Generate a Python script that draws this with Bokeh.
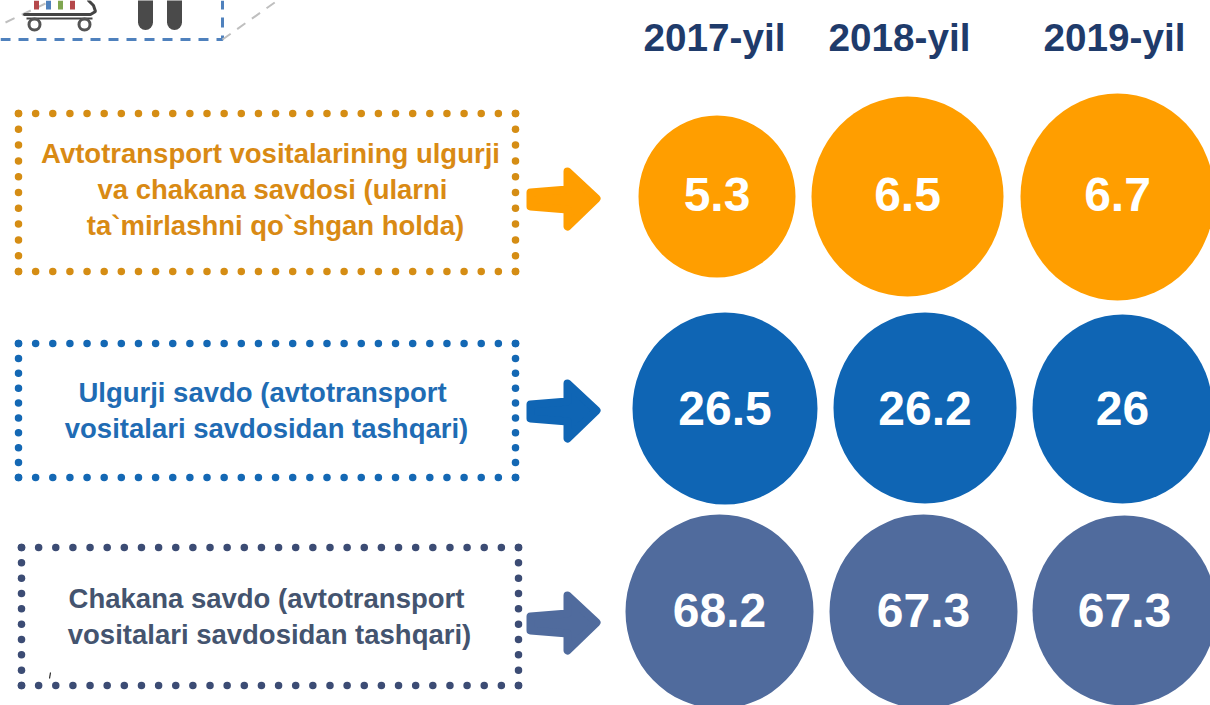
from bokeh.plotting import figure
from bokeh.core.properties import value
from bokeh.embed import file_html
from bokeh.resources import INLINE
import numpy as np

years = ["2017-yil", "2018-yil", "2019-yil"]
orange_vals = ["5.3", "6.5", "6.7"]
blue_vals = ["26.5", "26.2", "26"]
slate_vals = ["68.2", "67.3", "67.3"]
labels = [
    ["Avtotransport vositalarining ulgurji", "va chakana savdosi (ularni", "ta`mirlashni qo`shgan holda)"],
    ["Ulgurji savdo (avtotransport", "vositalari savdosidan tashqari)"],
    ["Chakana savdo (avtotransport", "vositalari savdosidan tashqari)"],
]

p = figure(width=1210, height=705, x_range=(0, 1210), y_range=(705, 0),
           output_backend="svg", toolbar_location=None,
           min_border=0, outline_line_color=None, background_fill_color="white")
p.axis.visible = False
p.grid.visible = False

FONT = value("Liberation Sans")
NAVY = "#1F3B6B"

# top fragment: dashed frame, cart, legs
p.line([0, 222, 222], [39, 39, 0], line_color="#4F81BD", line_width=3, line_dash="10 8")
p.line([222, 277], [39, 0], line_color="#BFBFBF", line_width=2, line_dash="10 8")
p.line([5, 45], [22, 3], line_color="#BFBFBF", line_width=2, line_dash="10 8")
p.line([24, 90, 95, 93, 88], [14, 14, 11, 5, 0], line_color="#444444", line_width=3, line_cap="round")
p.line([26, 92], [18, 18], line_color="#444444", line_width=2)
p.scatter([34, 84], [24, 24], size=11, marker="circle", fill_color="white", line_color="#555555", line_width=3)
p.line([145, 145], [0, 22], line_color="#4A4A4A", line_width=15, line_cap="round")
p.line([174, 174], [0, 22], line_color="#4A4A4A", line_width=15, line_cap="round")
p.segment([36, 48, 60, 72], [0, 0, 0, 0], [36, 48, 60, 72], [9, 9, 9, 9],
          line_color=["#B5484A", "#4F81BD", "#7FA650", "#B5484A"], line_width=5)

# year headers
p.text([714, 899, 1114], [37, 37, 37], text=years, text_font=FONT, text_font_style="bold",
       text_font_size="38.7px", text_color=NAVY, text_align="center", text_baseline="middle")

def dots(x0, x1, y0, y1, color, nx, ny):
    xs = np.r_[np.linspace(x0, x1, nx), np.linspace(x0, x1, nx),
               np.full(ny, x0), np.full(ny, x1)]
    ys = np.r_[np.full(nx, y0), np.full(nx, y1),
               np.linspace(y0, y1, ny), np.linspace(y0, y1, ny)]
    p.scatter(xs, ys, size=7.5, marker="circle", fill_color=color, line_color=None)

def arrow(y, color):
    xs = [530, 567, 567, 596, 567, 567, 530]
    ys = [y - 6, y - 9, y - 27, y, y + 28, y + 11, y + 8]
    p.patch(xs, ys, fill_color=color, line_color=color, line_width=8, line_join="round")

rows = [
    dict(box=(18, 515, 113, 271, 30, 11), dot="#D58D14", fill="#FF9E00", txt="#D98A14", vals=orange_vals,
         ay=198, cx=[716.5, 907, 1117], cy=[196, 196, 196.5], w=[157, 192, 194], h=[162, 200, 207],
         tx=[270, 272, 275], ty=[153, 189, 225], lab=labels[0], tyv=194),
    dict(box=(18, 515, 343, 477, 30, 10), dot="#1468B4", fill="#0F65B4", txt="#1F6CB4", vals=blue_vals,
         ay=410, cx=[724.5, 924.5, 1122], cy=[408, 407.5, 408.5], w=[185, 183, 180], h=[192, 191, 189],
         tx=[262, 266], ty=[392, 428], lab=labels[1], tyv=408),
    dict(box=(21, 518, 547, 685, 30, 10), dot="#3C4C74", fill="#506B9D", txt="#44546F", vals=slate_vals,
         ay=622, cx=[719, 923, 1124], cy=[611, 611, 610], w=[188, 188, 184], h=[194, 194, 190],
         tx=[266, 269], ty=[598, 634], lab=labels[2], tyv=610),
]

for r in rows:
    x0, x1, y0, y1, nx, ny = r["box"]
    dots(x0, x1, y0, y1, r["dot"], nx, ny)
    arrow(r["ay"], r["fill"])
    p.ellipse(r["cx"], r["cy"], width=r["w"], height=r["h"], fill_color=r["fill"], line_color=None)
    p.text(r["tx"], r["ty"], text=r["lab"], text_font=FONT, text_font_style="bold",
           text_font_size="27.5px", text_color=r["txt"], text_align="center", text_baseline="middle")
    p.text(r["cx"], [r["tyv"]] * 3, text=r["vals"], text_font=FONT, text_font_style="bold",
           text_font_size="48px", text_color="white", text_align="center", text_baseline="middle")

# small stray tick above the bottom dotted line of the last box
p.line([50, 49], [672, 678], line_color="#222222", line_width=1.2)

open("out.html", "w").write(file_html(p, INLINE))
